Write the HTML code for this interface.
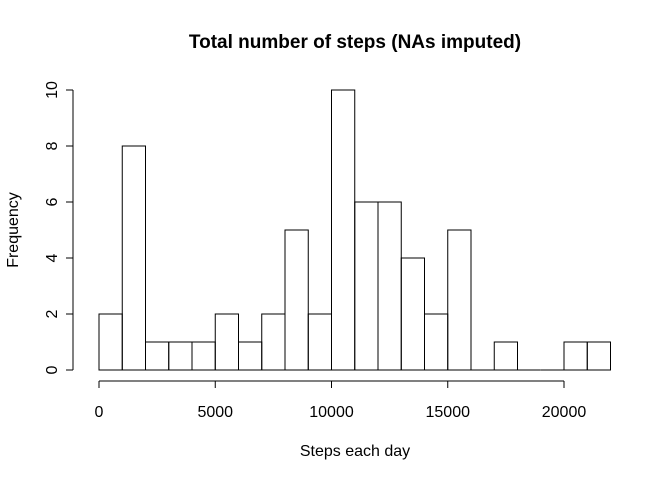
<!DOCTYPE html>
<html><head><meta charset="utf-8"><style>
body{margin:0;background:#fff}
svg{display:block;font-family:"Liberation Sans",sans-serif}
</style></head><body>
<svg id="chart" width="672" height="480">
<text x="355" y="48" text-anchor="middle" font-size="19" font-weight="bold">Total number of steps (NAs imputed)</text>
<text x="355" y="456" text-anchor="middle" font-size="16">Steps each day</text>
<text transform="translate(18,230) rotate(-90)" text-anchor="middle" font-size="16">Frequency</text>
<g id="bars"></g><g id="xaxis"></g><g id="yaxis"></g>
</svg>
<script>
const binStarts=[0,1000,2000,3000,4000,5000,6000,7000,8000,9000,10000,11000,12000,13000,14000,15000,16000,17000,18000,19000,20000,21000];
const counts=[2,8,1,1,1,2,1,2,5,2,10,6,6,4,2,5,0,1,0,0,1,1];
const binWidth=1000;
const xTicks=[0,5000,10000,15000,20000];
const yTicks=[0,2,4,6,8,10];
const NS="http://www.w3.org/2000/svg";
const x=v=>99+(v/20000)*465;
const y=v=>370-v*28;
function mk(t,a,p){const e=document.createElementNS(NS,t);for(const k in a)e.setAttribute(k,a[k]);p.appendChild(e);return e;}
const bars=document.getElementById('bars');
binStarts.forEach((s,i)=>{
  const x0=x(s),x1=x(s+binWidth),y0=y(0),y1=y(counts[i]);
  const r=mk('path',{d:`M${x0},${y0}L${x0},${y1}L${x1},${y1}L${x1},${y0}Z`,fill:'none',stroke:'#000','stroke-width':1},bars);
  
  
});
const xa=document.getElementById('xaxis');
const xl=mk('line',{x1:x(xTicks[0]),x2:x(xTicks[xTicks.length-1]),y1:381,y2:381,stroke:'#000'},xa);


xTicks.forEach(t=>{
  mk('line',{x1:x(t),x2:x(t),y1:381,y2:388,stroke:'#000'},xa);
  const tx=mk('text',{x:x(t),y:417,'text-anchor':'middle','font-size':16},xa);
  tx.textContent=t;
  
  
});
const ya=document.getElementById('yaxis');
const yl=mk('line',{x1:73,x2:73,y1:y(yTicks[0]),y2:y(yTicks[yTicks.length-1]),stroke:'#000'},ya);


yTicks.forEach(t=>{
  mk('line',{x1:66,x2:73,y1:y(t),y2:y(t),stroke:'#000'},ya);
  const tx=mk('text',{transform:`translate(57,${y(t)}) rotate(-90)`,'text-anchor':'middle','font-size':16},ya);
  tx.textContent=t;
  
  
});
</script>
</body></html>
